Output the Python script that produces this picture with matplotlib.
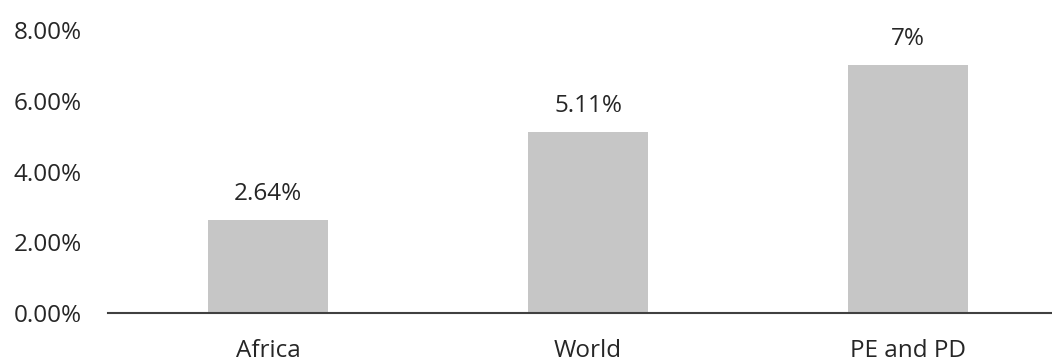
import matplotlib
matplotlib.use("Agg")
import matplotlib.pyplot as plt

categories = ["Africa", "World", "PE and PD"]
values = [2.64, 5.11, 7.0]
value_labels = ["2.64%", "5.11%", "7%"]
yticks = [0, 2, 4, 6, 8]
ytick_labels = ["0.00%", "2.00%", "4.00%", "6.00%", "8.00%"]

W, H = 1052, 363
fig = plt.figure(figsize=(W / 100, H / 100), dpi=100)
left, right, top, bottom = 108, 1052, 30, 313
ax = fig.add_axes([left / W, 1 - bottom / H, (right - left) / W, (bottom - top) / H])

x = list(range(len(categories)))
ax.bar(x, values, width=0.378, color="#c6c6c6", zorder=2)
ax.set_xlim(-0.5, (right - left) / 320 - 0.5)
ax.set_ylim(0, 8)

font = "Open Sans"
fs = 17.5
tc = "#262626"
for xi, v, lab in zip(x, values, value_labels):
    ax.annotate(lab, (xi, v), xytext=(0, 10), textcoords="offset points",
                ha="center", va="bottom", fontsize=fs, family=font, color=tc)

ax.set_yticks(yticks)
ax.set_yticklabels(ytick_labels, family=font, fontsize=fs, color=tc)
ax.set_xticks(x)
ax.set_xticklabels(categories, family=font, fontsize=fs, color=tc)
ax.tick_params(axis="y", length=0, pad=19)
ax.tick_params(axis="x", length=0, pad=18.5)
for s in ["top", "right", "left"]:
    ax.spines[s].set_visible(False)
ax.spines["bottom"].set_color("#404040")
ax.spines["bottom"].set_linewidth(1.5)
ax.spines["bottom"].set_zorder(3)

fig.savefig("out.png", dpi=100)
